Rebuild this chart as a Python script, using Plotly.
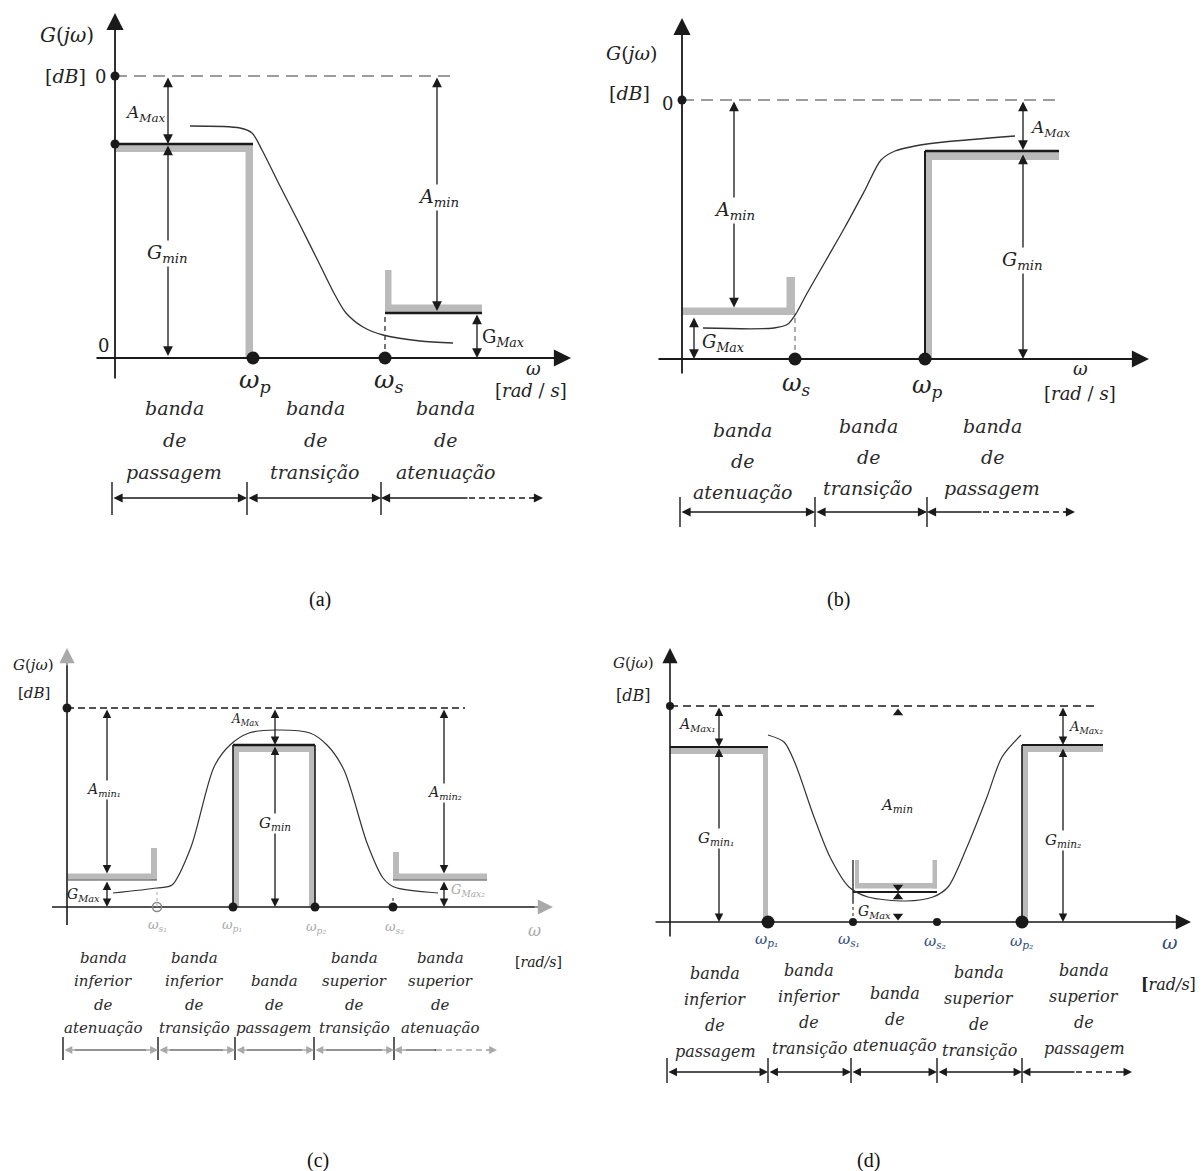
import plotly.graph_objects as go

W, H = 1202, 1171
SERIF = "DejaVu Serif"
CAPFONT = "Liberation Serif"
GRAY = "#bababa"
DARK = "#1a1a1a"
CURVE = "#333333"

# ===================== DATA (schematic units) =====================
# (a) low-pass
a_omega = [13.8, 27.0]                 # omega_p, omega_s
a_gain = [28.2, 21.4, 4.5]             # 0 dB line, G_min, G_Max
a_mask = [8.8, 36.7]                   # stop-wall top, stop-mask end
a_curve_x = [7.5, 12.5, 13.7, 14.7, 16.5, 18.5, 20.5, 22.0, 23.1, 24.8, 26.8, 30.5, 33.8]
a_curve_y = [23.2, 23.0, 22.5, 20.8, 17.2, 13.3, 9.3, 6.3, 4.5, 3.1, 2.3, 1.7, 1.5]
a_band_edges = [-0.3, 13.2, 26.6, 42.8]
a_bands = [["banda", "de", "passagem"], ["banda", "de", "transição"], ["banda", "de", "atenuação"]]

# (b) high-pass
b_omega = [11.3, 24.3]                 # omega_s, omega_p
b_gain = [25.9, 20.8, 4.4]             # 0 dB line, G_min, G_Max
b_mask = [8.2, 37.7]                   # stop-wall top, pass-mask end
b_curve_x = [2.1, 9.2, 10.6, 11.5, 12.3, 14.3, 16.3, 18.3, 19.9, 21.3, 23.3, 26.2, 33.3]
b_curve_y = [3.1, 3.1, 3.5, 4.7, 6.2, 9.7, 13.2, 16.9, 19.9, 20.8, 21.3, 21.7, 22.3]
b_band_edges = [-0.2, 13.3, 24.5, 39.3]
b_bands = [["banda", "de", "atenuação"], ["banda", "de", "transição"], ["banda", "de", "passagem"]]

# (c) band-pass
c_omega = [9.0, 16.6, 24.8, 32.6]      # omega_s1, omega_p1, omega_p2, omega_s2
c_gain = [19.9, 16.2, 2.7]             # 0 dB line, G_min, G_Max
c_mask = [5.9, 42.0]                   # stop-wall top, stop-mask end
c_curve_x = [4.6, 9.0, 10.5, 12.4, 14.7, 16.3, 18.2, 20.9, 24.3, 26.0, 27.7, 30.0, 31.6, 32.7, 37.1]
c_curve_y = [1.4, 1.9, 2.2, 6.0, 14.0, 16.2, 17.4, 17.7, 17.4, 16.2, 13.7, 6.4, 2.9, 2.0, 1.4]
c_band_edges = [-0.4, 9.1, 16.8, 24.7, 32.7, 43.0]
c_bands = [["banda", "inferior", "de", "atenuação"], ["banda", "inferior", "de", "transição"],
           ["banda", "de", "passagem"], ["banda", "superior", "de", "transição"],
           ["banda", "superior", "de", "atenuação"]]

# (d) band-stop
d_omega = [9.8, 18.3, 26.7, 35.2]      # omega_p1, omega_s1, omega_s2, omega_p2
d_gain = [21.6, 17.5, 17.7, 3.0]       # 0 dB line, G_min1, G_min2, G_Max
d_mask = [6.2, 43.3]                   # stop-wall top, pass-mask end
d_curve_x = [9.8, 11.4, 12.5, 14.4, 16.0, 17.9, 19.8, 23.6, 26.3, 27.8, 29.7, 31.7, 33.2, 35.1]
d_curve_y = [18.7, 18.0, 15.9, 10.5, 6.5, 3.5, 2.5, 2.1, 2.5, 3.5, 7.5, 12.5, 16.5, 18.7]
d_band_edges = [-0.3, 9.8, 18.1, 26.7, 35.2, 46.2]
d_bands = [["banda", "inferior", "de", "passagem"], ["banda", "inferior", "de", "transição"],
           ["banda", "de", "atenuação"], ["banda", "superior", "de", "transição"],
           ["banda", "superior", "de", "passagem"]]

# ===================== LAYOUT (pixel origin of each panel) =====================
ORIGINS = [(115, 358), (682, 359), (67, 907), (670, 922)]
UNIT = 10.0

fig = go.Figure()
ann = []
shapes = []


def ids(p):
    return ("x", "y") if p == 1 else (f"x{p}", f"y{p}")


def line(p, xs, ys, color=DARK, width=1.5, dash="solid", spline=False):
    xa, ya = ids(p)
    ln = dict(color=color, width=width, dash=dash)
    if spline:
        ln.update(shape="spline", smoothing=0.8)
    fig.add_trace(go.Scatter(x=xs, y=ys, mode="lines", xaxis=xa, yaxis=ya, line=ln,
                             hoverinfo="skip", showlegend=False))


def dots(p, xs, ys, size=10, color=DARK, symbol="circle"):
    xa, ya = ids(p)
    fig.add_trace(go.Scatter(x=xs, y=ys, mode="markers", xaxis=xa, yaxis=ya,
                             marker=dict(size=size, color=color, symbol=symbol,
                                         line=dict(width=1.5 if "open" in symbol else 0, color=color)),
                             hoverinfo="skip", showlegend=False, cliponaxis=False))


def rect(p, x0, x1, y0, y1, color=GRAY):
    xa, ya = ids(p)
    shapes.append(dict(type="rect", xref=xa, yref=ya, x0=x0, x1=x1, y0=y0, y1=y1,
                       fillcolor=color, line=dict(width=0), layer="below"))


def arrow(p, x0, y0, x1, y1, both=False, color=DARK, width=1.3, size=1.5):
    xa, ya = ids(p)
    ann.append(dict(x=x1, y=y1, ax=x0, ay=y0, xref=xa, yref=ya, axref=xa, ayref=ya, text="",
                    showarrow=True, arrowhead=2, startarrowhead=2,
                    arrowside="end+start" if both else "end",
                    arrowsize=size, startarrowsize=size, arrowwidth=width, arrowcolor=color))


def text(p, x, y, s, size=20, color="#222222", bg=None, xanchor="center", yanchor="middle"):
    xa, ya = ids(p)
    d = dict(x=x, y=y, xref=xa, yref=ya, text=s, showarrow=False,
             font=dict(family=SERIF, size=size, color=color), xanchor=xanchor, yanchor=yanchor)
    if bg:
        d["bgcolor"] = bg
        d["borderpad"] = 0
    ann.append(d)


def band_labels(p, centers, bottoms, spacing, bands, size):
    for cx, yb, lines in zip(centers, bottoms, bands):
        n = len(lines)
        for i, word in enumerate(lines):
            text(p, cx, yb + (n - 1 - i) * spacing, f"<i>{word}</i>", size=size, color="#2a2a2a")


def band_row(p, edges, dash_start, y, tick, head_color=DARK, body_color=DARK, size=1.4):
    for e in edges[:-1]:
        line(p, [e, e], tick, body_color, 1.4)
    for i in range(len(edges) - 2):
        arrow(p, edges[i], y, edges[i + 1], y, both=True, color=head_color, size=size)
        if body_color != head_color:
            line(p, [edges[i] + 1.2, edges[i + 1] - 1.2], [y, y], body_color, 1.4)
    e0, end = edges[-2], edges[-1]
    arrow(p, dash_start, y, e0, y, color=head_color, size=size)
    if body_color != head_color:
        line(p, [e0 + 1.2, dash_start], [y, y], body_color, 1.4)
    line(p, [dash_start, end - 0.8], [y, y], head_color, 1.4, dash="6px,4px")
    arrow(p, end - 1.2, y, end, y, color=head_color, size=size)


# ===================== (a) low-pass =====================
p = 1
wp, ws = a_omega
zero, gmin, gmax = a_gain
wall_top, stop_end = a_mask
arrow(p, 0, -2.2, 0, 34.5, width=1.8, size=1.9)
arrow(p, -2.0, 0, 45.6, 0, width=1.8, size=1.9)
line(p, [0, 34.0], [zero, zero], "#9d9d9d", 2.2, dash="12px,7px")
rect(p, 0, wp, gmin - 0.8, gmin)
rect(p, wp - 0.75, wp, 0, gmin)
line(p, [0, wp], [gmin, gmin], DARK, 2.6)
rect(p, ws, ws + 0.65, gmax, wall_top)
rect(p, ws, stop_end, gmax + 0.1, gmax + 0.85)
line(p, [ws, stop_end], [gmax, gmax], DARK, 2.4)
line(p, [ws, ws], [0, gmax], DARK, 1.2, dash="5px,4px")
line(p, a_curve_x, a_curve_y, CURVE, 1.3, spline=True)
dots(p, [0, 0], [zero, gmin], size=9)
dots(p, [wp, ws], [0, 0], size=13)
arrow(p, 5.3, zero, 5.3, gmin, both=True)
arrow(p, 5.3, gmin, 5.3, 0.2, both=True)
arrow(p, 32.2, zero, 32.2, gmax + 0.2, both=True)
arrow(p, 36.2, gmax, 36.2, 0, both=True)
text(p, -4.8, 32.3, "<i>G</i>(<i>jω</i>)", 20)
text(p, -5.0, 28.2, "[<i>dB</i>]", 19)
text(p, -1.5, 28.2, "0", 18)
text(p, -1.2, 1.3, "0", 18)
text(p, 3.0, 24.5, "<i>A<sub>Max</sub></i>", 17)
text(p, 5.2, 10.5, "<i>G<sub>min</sub></i>", 19, bg="white")
text(p, 32.3, 16.1, "<i>A<sub>min</sub></i>", 19, bg="white")
text(p, 38.8, 2.0, "G<sub><i>Max</i></sub>", 18)
text(p, wp + 0.2, -2.3, "<i>ω<sub>p</sub></i>", 25)
text(p, ws + 0.3, -2.3, "<i>ω<sub>s</sub></i>", 25)
text(p, 41.8, -1.0, "<i>ω</i>", 18)
text(p, 41.6, -3.2, "[<i>rad</i> / <i>s</i>]", 18)
band_labels(p, [5.9, 20.0, 33.0], [-11.4, -11.4, -11.4], 3.2, a_bands, 19)
band_row(p, a_band_edges, 35.4, -14.0, [-12.4, -15.7])

# ===================== (b) high-pass =====================
p = 2
ws, wp = b_omega
zero, gmin, gmax = b_gain
wall_top, pass_end = b_mask
arrow(p, 0, -1.6, 0, 34.1, width=1.8, size=1.9)
arrow(p, -2.5, 0, 46.7, 0, width=1.8, size=1.9)
line(p, [0, 37.9], [zero, zero], "#9d9d9d", 2.2, dash="12px,7px")
rect(p, 0, ws, gmax, gmax + 0.75)
rect(p, ws - 0.85, ws, gmax, wall_top)
line(p, [ws, ws], [0, gmax], "#777777", 1.2, dash="5px,4px")
rect(p, wp, wp + 0.7, 0, gmin)
rect(p, wp, pass_end, gmin - 0.9, gmin)
line(p, [wp, wp], [0, gmin], DARK, 2.0)
line(p, [wp, pass_end], [gmin, gmin], DARK, 2.4)
line(p, b_curve_x, b_curve_y, CURVE, 1.3, spline=True)
dots(p, [0], [zero], size=9)
dots(p, [ws, wp], [0, 0], size=13)
arrow(p, 5.2, zero, 5.2, gmax + 0.75, both=True)
arrow(p, 1.2, gmax - 0.1, 1.2, 0, both=True)
arrow(p, 34.1, zero, 34.1, gmin + 0.1, both=True)
arrow(p, 34.1, gmin - 0.2, 34.1, 0, both=True)
text(p, -5.1, 30.6, "<i>G</i>(<i>jω</i>)", 19)
text(p, -5.3, 26.6, "[<i>dB</i>]", 19)
text(p, -1.5, 25.6, "0", 18)
text(p, 5.2, 14.9, "<i>A<sub>min</sub></i>", 19, bg="white")
text(p, 4.1, 1.6, "<i>G<sub>Max</sub></i>", 18)
text(p, 36.8, 23.1, "<i>A<sub>Max</sub></i>", 17)
text(p, 34.0, 9.9, "<i>G<sub>min</sub></i>", 19, bg="white")
text(p, ws + 0.1, -2.5, "<i>ω<sub>s</sub></i>", 24)
text(p, wp + 0.2, -2.7, "<i>ω<sub>p</sub></i>", 24)
text(p, 39.8, -0.9, "<i>ω</i>", 18)
text(p, 39.8, -3.4, "[<i>rad</i> / <i>s</i>]", 18)
band_labels(p, [6.0, 18.6, 31.0], [-13.3, -12.9, -12.9], 3.1, b_bands, 19)
band_row(p, b_band_edges, 30.1, -15.3, [-13.8, -16.8])

# ===================== (c) band-pass =====================
p = 3
ws1, wp1, wp2, ws2 = c_omega
zero, gmin, gmax = c_gain
wall_top, stop_end = c_mask
LG = "#a9a9a9"
line(p, [0, 0], [-1.8, 24.6], DARK, 1.6)
arrow(p, 0, 24.0, 0, 25.9, color=LG, width=1.6, size=1.9)
line(p, [-1.5, 47.3], [0, 0], DARK, 1.6)
arrow(p, 46.6, 0, 48.6, 0, color=LG, width=1.6, size=1.9)
line(p, [0, 39.8], [zero, zero], DARK, 1.4, dash="7px,4px")
rect(p, 0, ws1, gmax + 0.05, gmax + 0.65)
rect(p, ws1 - 0.6, ws1, gmax, wall_top)
line(p, [0, ws1], [gmax, gmax], "#444444", 1.0)
rect(p, wp1, wp2, gmin - 0.7, gmin)
rect(p, wp1, wp1 + 0.6, 0, gmin)
rect(p, wp2 - 0.6, wp2, 0, gmin)
line(p, [wp1, wp1], [0, gmin], DARK, 1.6)
line(p, [wp2, wp2], [0, gmin], DARK, 1.6)
line(p, [wp1, wp2], [gmin, gmin], DARK, 2.4)
rect(p, ws2, ws2 + 0.6, gmax, 5.5)
rect(p, ws2, stop_end, gmax + 0.05, gmax + 0.65)
line(p, [ws2, stop_end], [gmax, gmax], "#444444", 1.0)
line(p, [ws1, ws1], [0, 1.9], LG, 1.0, dash="3px,3px")
line(p, [ws2, ws2], [0, 1.1], DARK, 1.0, dash="3px,3px")
line(p, c_curve_x, c_curve_y, CURVE, 1.2, spline=True)
dots(p, [0, wp1, wp2, ws2], [zero, 0, 0, 0], size=9)
dots(p, [ws1], [0], size=9, color="#8a8a8a", symbol="circle-open")
arrow(p, 4.0, zero, 4.0, gmax + 0.65, both=True, size=1.3)
arrow(p, 4.0, gmax, 4.0, 0, both=True, size=1.3)
arrow(p, 20.8, zero, 20.8, gmin, both=True, size=1.3)
arrow(p, 20.8, gmin, 20.8, 0, both=True, size=1.3)
arrow(p, 37.7, zero, 37.7, gmax + 0.65, both=True, size=1.3)
arrow(p, 37.7, gmax, 37.7, 0, both=True, size=1.3)
text(p, -3.4, 24.2, "<i>G</i>(<i>jω</i>)", 15)
text(p, -3.3, 21.4, "[<i>dB</i>]", 15)
text(p, 3.6, 11.7, "<i>A<sub>min₁</sub></i>", 14, bg="white")
text(p, 1.6, 1.2, "<i>G<sub>Max</sub></i>", 14)
text(p, 17.8, 18.7, "<i>A<sub>Max</sub></i>", 12)
text(p, 20.8, 8.4, "<i>G<sub>min</sub></i>", 15, bg="white")
text(p, 37.7, 11.4, "<i>A<sub>min₂</sub></i>", 14, bg="white")
text(p, 40.1, 1.7, "<i>G<sub>Max₂</sub></i>", 13, color=LG)
text(p, ws1, -1.8, "<i>ω<sub>s₁</sub></i>", 13, color=LG)
text(p, wp1 - 0.1, -1.8, "<i>ω<sub>p₁</sub></i>", 13, color=LG)
text(p, wp2 + 0.1, -2.0, "<i>ω<sub>p₂</sub></i>", 13, color=LG)
text(p, ws2 + 0.1, -2.0, "<i>ω<sub>s₂</sub></i>", 13, color=LG)
text(p, 46.7, -2.3, "<i>ω</i>", 16, color=LG)
text(p, 47.1, -5.5, "[<i>rad/s</i>]", 14)
band_labels(p, [3.6, 12.7, 20.7, 28.7, 37.3], [-12.1] * 5, 2.35, c_bands, 15)
band_row(p, c_band_edges, 36.9, -14.3, [-13.0, -15.3], head_color=LG, body_color=DARK, size=1.2)

# ===================== (d) band-stop =====================
p = 4
wp1, ws1, ws2, wp2 = d_omega
zero, g1, g2, gmax = d_gain
wall_top, pass_end = d_mask
BLUE = "#2f4b7c"
arrow(p, 0, -1.6, 0, 27.4, width=1.6, size=1.9)
arrow(p, -1.6, 0, 52.1, 0, width=1.6, size=1.9)
line(p, [0, 42.6], [zero, zero], DARK, 1.6, dash="8px,5px")
rect(p, 0, wp1, g1 - 0.7, g1)
rect(p, wp1 - 0.5, wp1, 0, g1)
line(p, [0, wp1], [g1, g1], DARK, 2.2)
rect(p, ws1 + 0.2, ws1 + 0.6, gmax + 0.4, wall_top)
rect(p, ws1 + 0.2, ws2, gmax + 0.35, gmax + 0.9)
rect(p, ws2 - 0.45, ws2, gmax + 0.35, wall_top)
line(p, [ws1, ws2], [gmax, gmax], DARK, 1.8)
line(p, [ws1, ws1], [1.9, wall_top], DARK, 1.3)
line(p, [ws1, ws1], [0, 1.9], DARK, 1.0, dash="3px,3px")
rect(p, wp2, wp2 + 0.6, 0, g2)
rect(p, wp2, pass_end, g2 - 0.7, g2)
line(p, [wp2, wp2], [0, g2], DARK, 1.6)
line(p, [wp2, pass_end], [g2, g2], DARK, 2.2)
line(p, d_curve_x, d_curve_y, CURVE, 1.2, spline=True)
dots(p, [0, ws1, ws2], [zero, 0, 0], size=8)
dots(p, [wp1, wp2], [0, 0], size=13)
arrow(p, 4.9, zero, 4.9, g1, both=True, size=1.3)
arrow(p, 4.9, g1, 4.9, 0, both=True, size=1.3)
arrow(p, 39.3, zero, 39.3, g2, both=True, size=1.3)
arrow(p, 39.3, g2 - 0.2, 39.3, 0, both=True, size=1.3)
dots(p, [22.8, 22.8], [20.9, 2.5], size=9, symbol="triangle-up")
dots(p, [22.8, 22.8], [3.5, 0.6], size=9, symbol="triangle-down")
text(p, -3.7, 25.9, "<i>G</i>(<i>jω</i>)", 15)
text(p, -3.7, 22.7, "[<i>dB</i>]", 16)
text(p, 2.6, 19.7, "<i>A<sub>Max₁</sub></i>", 14)
text(p, 4.6, 8.4, "<i>G<sub>min₁</sub></i>", 15, bg="white")
text(p, 22.6, 11.7, "<i>A<sub>min</sub></i>", 15)
text(p, 20.4, 1.0, "<i>G<sub>Max</sub></i>", 14)
text(p, 41.6, 19.5, "<i>A<sub>Max₂</sub></i>", 13)
text(p, 39.3, 8.2, "<i>G<sub>min₂</sub></i>", 15, bg="white")
text(p, wp1 - 0.2, -1.7, "<i>ω<sub>p₁</sub></i>", 15, color=BLUE)
text(p, ws1 - 0.4, -1.7, "<i>ω<sub>s₁</sub></i>", 15, color=BLUE)
text(p, ws2 - 0.2, -1.9, "<i>ω<sub>s₂</sub></i>", 15, color=BLUE)
text(p, wp2 - 0.1, -1.9, "<i>ω<sub>p₂</sub></i>", 15, color=BLUE)
text(p, 50.0, -2.0, "<i>ω</i>", 19, color=BLUE)
text(p, 52.8, -6.2, "<b>[</b><i>rad/s</i>]", 16, xanchor="right")
band_labels(p, [4.5, 13.9, 22.5, 30.9, 41.4], [-12.9, -12.6, -12.3, -12.8, -12.6], 2.6, d_bands, 16)
band_row(p, d_band_edges, 40.6, -15.0, [-13.6, -16.1], size=1.3)

# ===================== captions =====================
for cap, cx, cy in [("(a)", 320, 600), ("(b)", 838, 600), ("(c)", 318, 1160), ("(d)", 868, 1160)]:
    ann.append(dict(x=cx / W, y=1 - cy / H, xref="paper", yref="paper", text=cap, showarrow=False,
                    xanchor="center", yanchor="middle",
                    font=dict(family=CAPFONT, size=20, color="#111111")))

# ===================== axes =====================
layout_axes = {}
for i, (ox, oy) in enumerate(ORIGINS, start=1):
    xs = "" if i == 1 else str(i)
    layout_axes[f"xaxis{xs}"] = dict(domain=[0, 1], range=[-ox / UNIT, (W - ox) / UNIT], visible=False,
                                     anchor=f"y{xs}", fixedrange=True)
    layout_axes[f"yaxis{xs}"] = dict(domain=[0, 1], range=[(oy - H) / UNIT, oy / UNIT], visible=False,
                                     anchor=f"x{xs}", fixedrange=True)

fig.update_layout(width=W, height=H, margin=dict(l=0, r=0, t=0, b=0),
                  paper_bgcolor="white", plot_bgcolor="rgba(0,0,0,0)",
                  showlegend=False, shapes=shapes, annotations=ann, **layout_axes)

fig.write_html("out.html", config={"displayModeBar": False},
               post_script="document.body.style.margin='0';document.body.style.overflow='hidden';")
